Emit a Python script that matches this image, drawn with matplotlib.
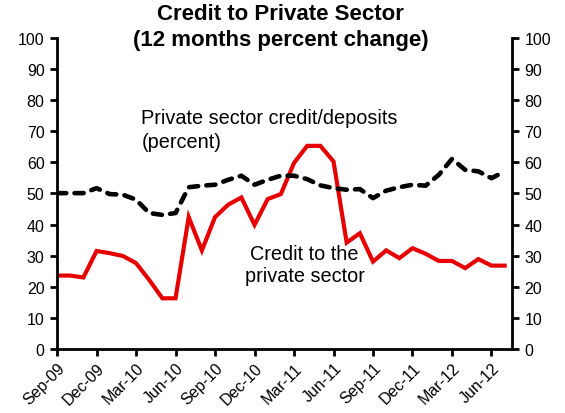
import matplotlib
matplotlib.use("Agg")
import matplotlib.pyplot as plt

months = ["Sep-09", "Oct-09", "Nov-09", "Dec-09", "Jan-10", "Feb-10", "Mar-10", "Apr-10",
          "May-10", "Jun-10", "Jul-10", "Aug-10", "Sep-10", "Oct-10", "Nov-10", "Dec-10",
          "Jan-11", "Feb-11", "Mar-11", "Apr-11", "May-11", "Jun-11", "Jul-11", "Aug-11",
          "Sep-11", "Oct-11", "Nov-11", "Dec-11", "Jan-12", "Feb-12", "Mar-12", "Apr-12",
          "May-12", "Jun-12", "Jul-12"]

credit_growth = [23.6, 23.6, 23.0, 31.5, 30.8, 29.9, 27.6, 22.2, 16.3, 16.3, 42.4, 31.7,
                 42.4, 46.4, 48.7, 39.9, 48.2, 49.8, 59.8, 65.3, 65.3, 60.3, 34.2, 37.2,
                 28.1, 31.7, 29.2, 32.4, 30.6, 28.3, 28.3, 26.0, 28.9, 26.8, 26.8]

credit_deposits = [50.1, 50.1, 50.1, 51.7, 49.8, 49.6, 48.0, 43.7, 43.1, 43.7, 52.0, 52.5,
                   52.8, 54.4, 55.7, 52.8, 54.4, 55.7, 55.7, 54.6, 52.6, 51.7, 51.2, 51.4,
                   48.5, 50.9, 52.0, 52.8, 52.5, 56.0, 61.1, 57.6, 57.1, 54.9, 57.1]

plt.rcParams['font.family'] = ['Liberation Sans', 'DejaVu Sans']

fig = plt.figure(figsize=(5.65, 4.14), dpi=100)
ax = fig.add_axes([0.101, 0.1546, 0.805, 0.7514])

x = list(range(len(months)))
ax.plot(x, credit_growth, color='#e60000', linewidth=3.0, solid_joinstyle='miter')
ax.plot(x, credit_deposits, color='black', linewidth=3.3, linestyle=(0, (2.0, 1.8)),
        dash_capstyle='round')

ax.set_xlim(0, len(months) - 0.45)
ax.set_ylim(0, 100)
ax.set_yticks(range(0, 101, 10))
ax.set_xticks(x[::3])
ax.set_xticklabels(months[::3], rotation=45, ha='right', rotation_mode='anchor')

for side in ['left', 'right', 'bottom']:
    ax.spines[side].set_linewidth(2)
ax.spines['top'].set_visible(False)

ax.tick_params(axis='y', direction='out', length=5, width=2, labelsize=11.5,
               right=True, labelright=True, pad=4)
ax.tick_params(axis='x', direction='out', length=5, width=2, labelsize=11.5, pad=3)

fig.text(0.497, 0.966, "Credit to Private Sector", ha='center', va='center',
         fontsize=16, fontweight='bold')
fig.text(0.497, 0.902, "(12 months percent change)", ha='center', va='center',
         fontsize=16, fontweight='bold')

ax.text(6.4, 70.5, "Private sector credit/deposits\n(percent)", fontsize=14.3,
        ha='left', va='center', linespacing=1.3)
ax.text(18.8, 27.3, "Credit to the\nprivate sector", fontsize=14.3,
        ha='center', va='center', linespacing=1.2)

fig.savefig("out.png", dpi=100)
